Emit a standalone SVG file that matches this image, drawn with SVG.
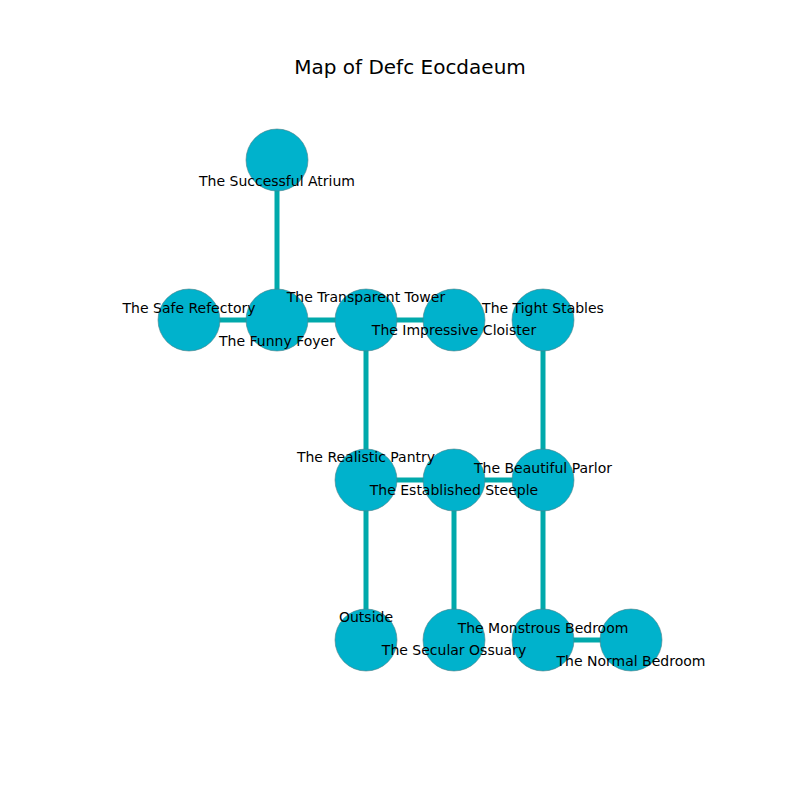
<svg xmlns="http://www.w3.org/2000/svg" width="800" height="800" viewBox="0 0 800 800">
<style>
.e{stroke:#00a9ab;stroke-width:5;fill:none}
.n{fill:#00b2cc;stroke:#4d7f86;stroke-width:0.6}
text{font-family:"DejaVu Sans",sans-serif;font-size:14px;fill:#000;text-anchor:middle;dominant-baseline:central}
.t{font-size:20px}
</style>
<rect width="800" height="800" fill="#fff"/>
<text class="t" x="410" y="67">Map of Defc Eocdaeum</text>
<g id="edges">
<line class="e" x1="277" y1="160" x2="277" y2="320"/>
<line class="e" x1="189" y1="320" x2="277" y2="320"/>
<line class="e" x1="277" y1="320" x2="366" y2="320"/>
<line class="e" x1="366" y1="320" x2="454" y2="320"/>
<line class="e" x1="366" y1="320" x2="366" y2="480"/>
<line class="e" x1="543" y1="320" x2="543" y2="480"/>
<line class="e" x1="366" y1="480" x2="454" y2="480"/>
<line class="e" x1="454" y1="480" x2="543" y2="480"/>
<line class="e" x1="366" y1="480" x2="366" y2="640"/>
<line class="e" x1="454" y1="480" x2="454" y2="640"/>
<line class="e" x1="543" y1="480" x2="543" y2="640"/>
<line class="e" x1="543" y1="640" x2="631" y2="640"/>
</g>
<g id="nodes">
<g id="atrium"><circle class="n" cx="277" cy="160" r="31"/></g>
<g id="refectory"><circle class="n" cx="189" cy="320" r="31"/></g>
<g id="foyer"><circle class="n" cx="277" cy="320" r="31"/></g>
<g id="tower"><circle class="n" cx="366" cy="320" r="31"/></g>
<g id="cloister"><circle class="n" cx="454" cy="320" r="31"/></g>
<g id="stables"><circle class="n" cx="543" cy="320" r="31"/></g>
<g id="pantry"><circle class="n" cx="366" cy="480" r="31"/></g>
<g id="steeple"><circle class="n" cx="454" cy="480" r="31"/></g>
<g id="parlor"><circle class="n" cx="543" cy="480" r="31"/></g>
<g id="outside"><circle class="n" cx="366" cy="640" r="31"/></g>
<g id="ossuary"><circle class="n" cx="454" cy="640" r="31"/></g>
<g id="monstrous"><circle class="n" cx="543" cy="640" r="31"/></g>
<g id="normal"><circle class="n" cx="631" cy="640" r="31"/></g>
</g>
<g id="labels">
<text x="277" y="181">The Successful Atrium</text>
<text x="189" y="308">The Safe Refectory</text>
<text x="277" y="341">The Funny Foyer</text>
<text x="366" y="297">The Transparent Tower</text>
<text x="454" y="330">The Impressive Cloister</text>
<text x="543" y="308">The Tight Stables</text>
<text x="366" y="457">The Realistic Pantry</text>
<text x="454" y="490">The Established Steeple</text>
<text x="543" y="468">The Beautiful Parlor</text>
<text x="366" y="617">Outside</text>
<text x="454" y="650">The Secular Ossuary</text>
<text x="543" y="628">The Monstrous Bedroom</text>
<text x="631" y="661">The Normal Bedroom</text>
</g>
</svg>
